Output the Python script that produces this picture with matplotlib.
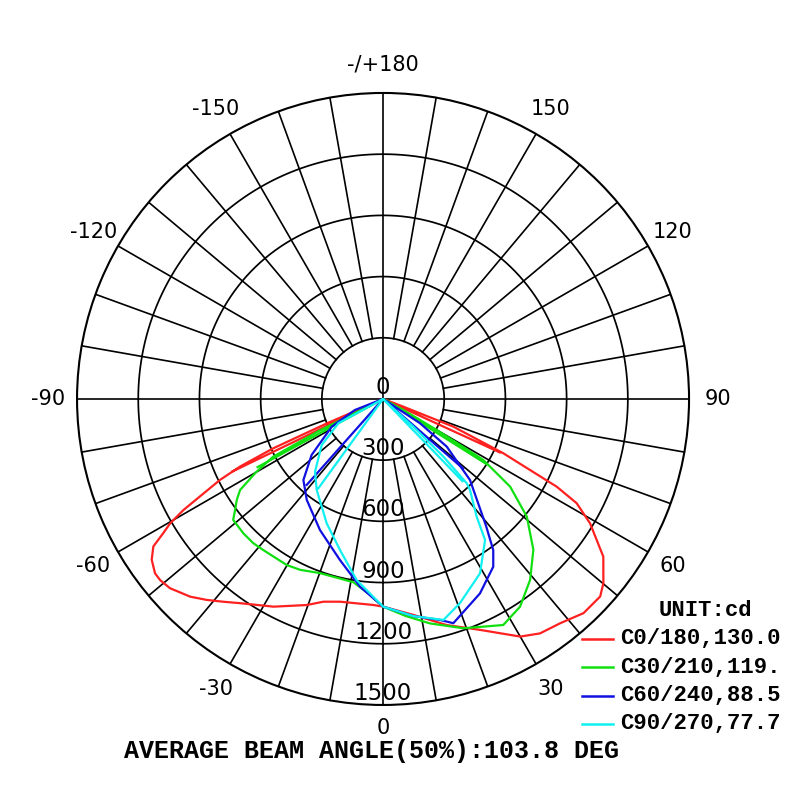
import numpy as np
import matplotlib
matplotlib.use("Agg")
import matplotlib.pyplot as plt
from matplotlib.lines import Line2D

# gamma angle in degrees (0 = down, + = right half), intensity in cd, in drawing order
red_deg = [-64.3, -67, -66.5, -65.8, -64.7, -63.6, -61.5, -60.9, -59.7, -58.6, -57.3, -55.2, -52.6,
           -50.9, -48.4, -44.3, -41.3, -38.2, -35, -27.8, -20.3, -16.4, -12, -2.7, 0, 8, 15.7, 22.8,
           30, 33.8, 38.3, 43.1, 47.7, 50.1, 54.4, 59, 61.7, 63.2, 64.2, 65.7, 68.5, 69.2, 69.5, 65.4]
red_cd = [820, 0, 300, 590, 775, 892, 1060, 1120, 1209, 1262, 1338, 1381, 1407,
          1408, 1397, 1354, 1311, 1265, 1222, 1151, 1077, 1036, 1016, 1011, 1018, 1069, 1151, 1228,
          1345, 1383, 1401, 1438, 1439, 1408, 1328, 1184, 1078, 954, 800, 647, 370, 106, 0, 630]

green_deg = [-61.5, -64.5, -63.5, -62.3, -60, -57.5, -55.4, -53.1, -51.1, -46.1, -42, -38.4, -30.1,
             -25.9, -19.9, -9.2, -4, 0, 6, 11.8, 19.3, 28, 33.4, 39.1, 44.9, 50.7, 55.4, 58.7, 60,
             61.5, 62, 57.8]
green_cd = [700, 0, 350, 608, 720, 831, 871, 907, 944, 950, 951, 945, 941,
            931, 908, 910, 960, 1018, 1070, 1124, 1191, 1255, 1220, 1143, 1044, 911, 757, 575, 304,
            113, 0, 600]

blue_deg = [-41.6, -70, -68.6, -61.6, -51.9, -44.5, -37.1, -25.7, -15, -7, 0, 8, 14.5, 17.4,
            26.5, 33.3, 36.1, 39.1, 47, 53.2, 56.7, 58, 49]
blue_cd = [563, 0, 148, 286, 445, 557, 620, 713, 817, 927, 1018, 1075, 1119, 1152,
           1065, 984, 917, 800, 583, 390, 217, 0, 520]

cyan_deg = [-35.9, -68, -61.5, -53.1, -43.1, -36.1, -24.4, -15.9, -8.3, 0, 8, 15.3, 20.6,
            29.1, 35.9, 38.5, 43.7, 44.8, 46.3, 47.6, 48.5, 44]
cyan_cd = [541, 0, 249, 376, 488, 552, 669, 770, 897, 1018, 1075, 1123, 1070,
           978, 853, 737, 617, 582, 409, 201, 0, 560]

series_labels = ["C0/180,130.0", "C30/210,119.", "C60/240,88.5", "C90/270,77.7"]
series_colors = ["#ff2020", "#10e010", "#1010e0", "#10f0f0"]

ring_cd = [300, 600, 900, 1200, 1500]
angle_ticks = [0, 30, 60, 90, 120, 150, 180, -150, -120, -90, -60, -30]
angle_labels = ["0", "30", "60", "90", "120", "150", "-/+180", "-150", "-120", "-90", "-60", "-30"]

fig = plt.figure(figsize=(8, 8), dpi=100)
ax = fig.add_axes([0.0963, 0.1188, 0.765, 0.765], projection="polar")
ax.set_theta_zero_location("S")
ax.set_theta_direction(1)
ax.set_ylim(0, 1500)
ax.grid(False)
ax.set_xticks([])
ax.set_yticks([])
ax.spines["polar"].set_linewidth(1.5)

# rings and spokes
full = np.linspace(0, 2 * np.pi, 721)
for r in ring_cd[:-1]:
    ax.plot(full, np.full_like(full, r), color="black", lw=1.25, zorder=1)
for a in range(0, 360, 10):
    start = 0 if a % 90 == 0 else ring_cd[0]
    ax.plot([np.radians(a)] * 2, [start, 1500], color="black", lw=1.2, zorder=1)

# curves
for deg, cd, col, lab in zip([red_deg, green_deg, blue_deg, cyan_deg],
                             [red_cd, green_cd, blue_cd, cyan_cd],
                             series_colors, series_labels):
    ax.plot(np.radians(deg), cd, color=col, lw=1.6, zorder=3, label=lab)

# radial labels along the bottom
for v in [0] + ring_cd:
    if v == 0:
        ax.text(np.pi, 56, "0", ha="center", va="center", fontsize=16.5, zorder=4)
    else:
        ax.text(0, v - 56, str(v), ha="center", va="center", fontsize=16.5, zorder=4)

# angle labels
for a, s in zip(angle_ticks, angle_labels):
    r = 1615 if a == 0 else 1640
    ax.text(np.radians(a), r, s, ha="center", va="center", fontsize=15, clip_on=False)

# legend
mono = dict(family="Liberation Mono", weight="bold")
fig.text(705 / 800, 1 - 611 / 800, "UNIT:cd", ha="center", va="center", fontsize=16, **mono)
for i, (lab, col) in enumerate(zip(series_labels, series_colors)):
    y = 1 - (639 + 28.3 * i) / 800
    fig.add_artist(Line2D([582 / 800, 613 / 800], [y, y], color=col, lw=1.8))
    fig.text(620 / 800, y, lab, ha="left", va="center", fontsize=16, **mono)

fig.text(372 / 800, 1 - 751 / 800, "AVERAGE BEAM ANGLE(50%):103.8 DEG",
         ha="center", va="center", fontsize=18, **mono)

fig.savefig("out.png", dpi=100, facecolor="white")
